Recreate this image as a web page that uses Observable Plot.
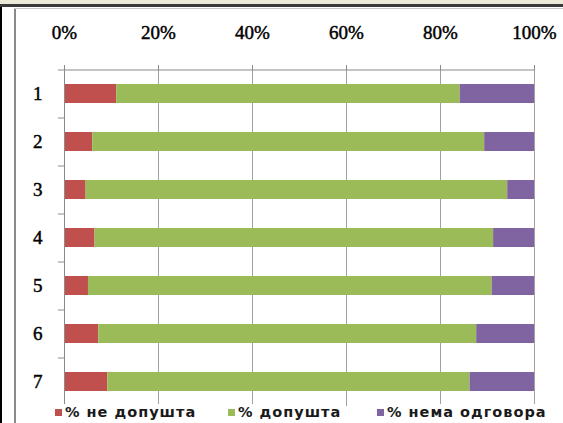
<!DOCTYPE html>
<html><head><meta charset="utf-8">
<script src="https://cdn.jsdelivr.net/npm/d3@7"></script>
<script src="https://cdn.jsdelivr.net/npm/@observablehq/plot@0.6"></script>
<style>
html,body{margin:0;padding:0;background:#fff;width:563px;height:423px;overflow:hidden;}
#wrap{position:relative;width:563px;height:423px;background:#fff;}
#topstrip{position:absolute;left:0;top:0;width:563px;height:4px;background:#ECE9D8;}
#topline{position:absolute;left:0;top:4px;width:563px;height:3px;background:#3a3a3a;}
#leftblack{position:absolute;left:0;top:7px;width:2px;height:416px;background:#000;}
#frameL{position:absolute;left:14px;top:8px;width:2px;height:415px;background:#8a8a8a;}
#frameT{position:absolute;left:14px;top:8px;width:549px;height:1px;background:#c8c8c8;}
#chart{position:absolute;left:0;top:0;}
#chart svg text{stroke:#000;stroke-width:0.45px;}
.leg{position:absolute;top:404px;height:16px;display:flex;align-items:center;background:#fff;font-family:"DejaVu Sans";font-size:14.5px;font-weight:bold;letter-spacing:1px;color:#1a1a1a;white-space:nowrap;padding-right:4px;}
.sw{width:7px;height:7px;margin-right:3px;}
</style>
</head><body>
<div id="wrap">
  <div id="topstrip"></div><div id="topline"></div>
  <div id="leftblack"></div><div id="frameL"></div><div id="frameT"></div>
  <div id="chart"></div>
</div>
<script>
const categories = ["1","2","3","4","5","6","7"];
const series = ["% не допушта","% допушта","% нема одговора"];
const neDopusta = [11.1, 6.0, 4.6, 6.5, 5.1, 7.3, 9.2];
const dopusta = [73.1, 83.4, 89.7, 84.8, 85.9, 80.4, 77.1];
const nemaOdgovora = [15.8, 10.6, 5.7, 8.7, 9.0, 12.3, 13.7];
const xTicks = [0, 20, 40, 60, 80, 100];
const colors = ["#C0504D", "#9BBB59", "#8064A2"];

const seriesValues = [neDopusta, dopusta, nemaOdgovora];
const data = categories.flatMap((c, i) => series.map((s, j) => ({cat: c, series: s, value: seriesValues[j][i]})));

const axisColor = "#8a8a8a";
const step = (406 - 70) / categories.length;

const chart = Plot.plot({
  width: 563, height: 423,
  marginTop: 70, marginBottom: 17, marginLeft: 64, marginRight: 29,
  style: {fontFamily: "Liberation Serif", fontSize: "19px", color: "#000", background: "transparent"},
  x: {domain: [0, 100], label: null},
  y: {domain: categories, paddingInner: 0.6, paddingOuter: 0.3, type: "band", label: null},
  color: {domain: series, range: colors},
  marks: [
    Plot.gridX(xTicks, {stroke: "#a0a0a0", strokeOpacity: 1}),
    Plot.barX(data, Plot.stackX({x: "value", y: "cat", fill: "series", order: series})),
    Plot.ruleX([0], {stroke: axisColor}),
    Plot.axisX(xTicks, {anchor: "top", label: null, tickSize: 6, tickPadding: 26, tickFormat: d => d + "%", stroke: axisColor, fill: "#000", fontSize: 19, fontFamily: "Liberation Serif"}),
    Plot.axisY({label: null, tickSize: 0, tickPadding: 22, fill: "#000", fontSize: 19, fontFamily: "Liberation Serif"}),
    Plot.ruleY(categories.slice(0, 1), {y: d => d, x1: 0, x2: 100, insetLeft: -6, dy: -step / 2, stroke: axisColor}),
    Plot.ruleY(categories.slice(1), {y: d => d, x1: 0, x2: 0, insetLeft: -6, dy: -step / 2, stroke: axisColor}),
    Plot.ruleY(categories.slice(-1), {y: d => d, x1: 0, x2: 0, insetLeft: -6, dy: step / 2, stroke: axisColor})
  ]
});
document.getElementById("chart").appendChild(chart);

const legendLefts = [55, 228, 377];
const wrap = document.getElementById("wrap");
series.forEach((s, i) => {
  const d = document.createElement("div");
  d.className = "leg";
  d.style.left = legendLefts[i] + "px";
  const sw = document.createElement("span");
  sw.className = "sw";
  sw.style.background = colors[i];
  const t = document.createElement("span");
  t.textContent = s;
  d.appendChild(sw); d.appendChild(t);
  wrap.appendChild(d);
});
</script>
</body></html>
